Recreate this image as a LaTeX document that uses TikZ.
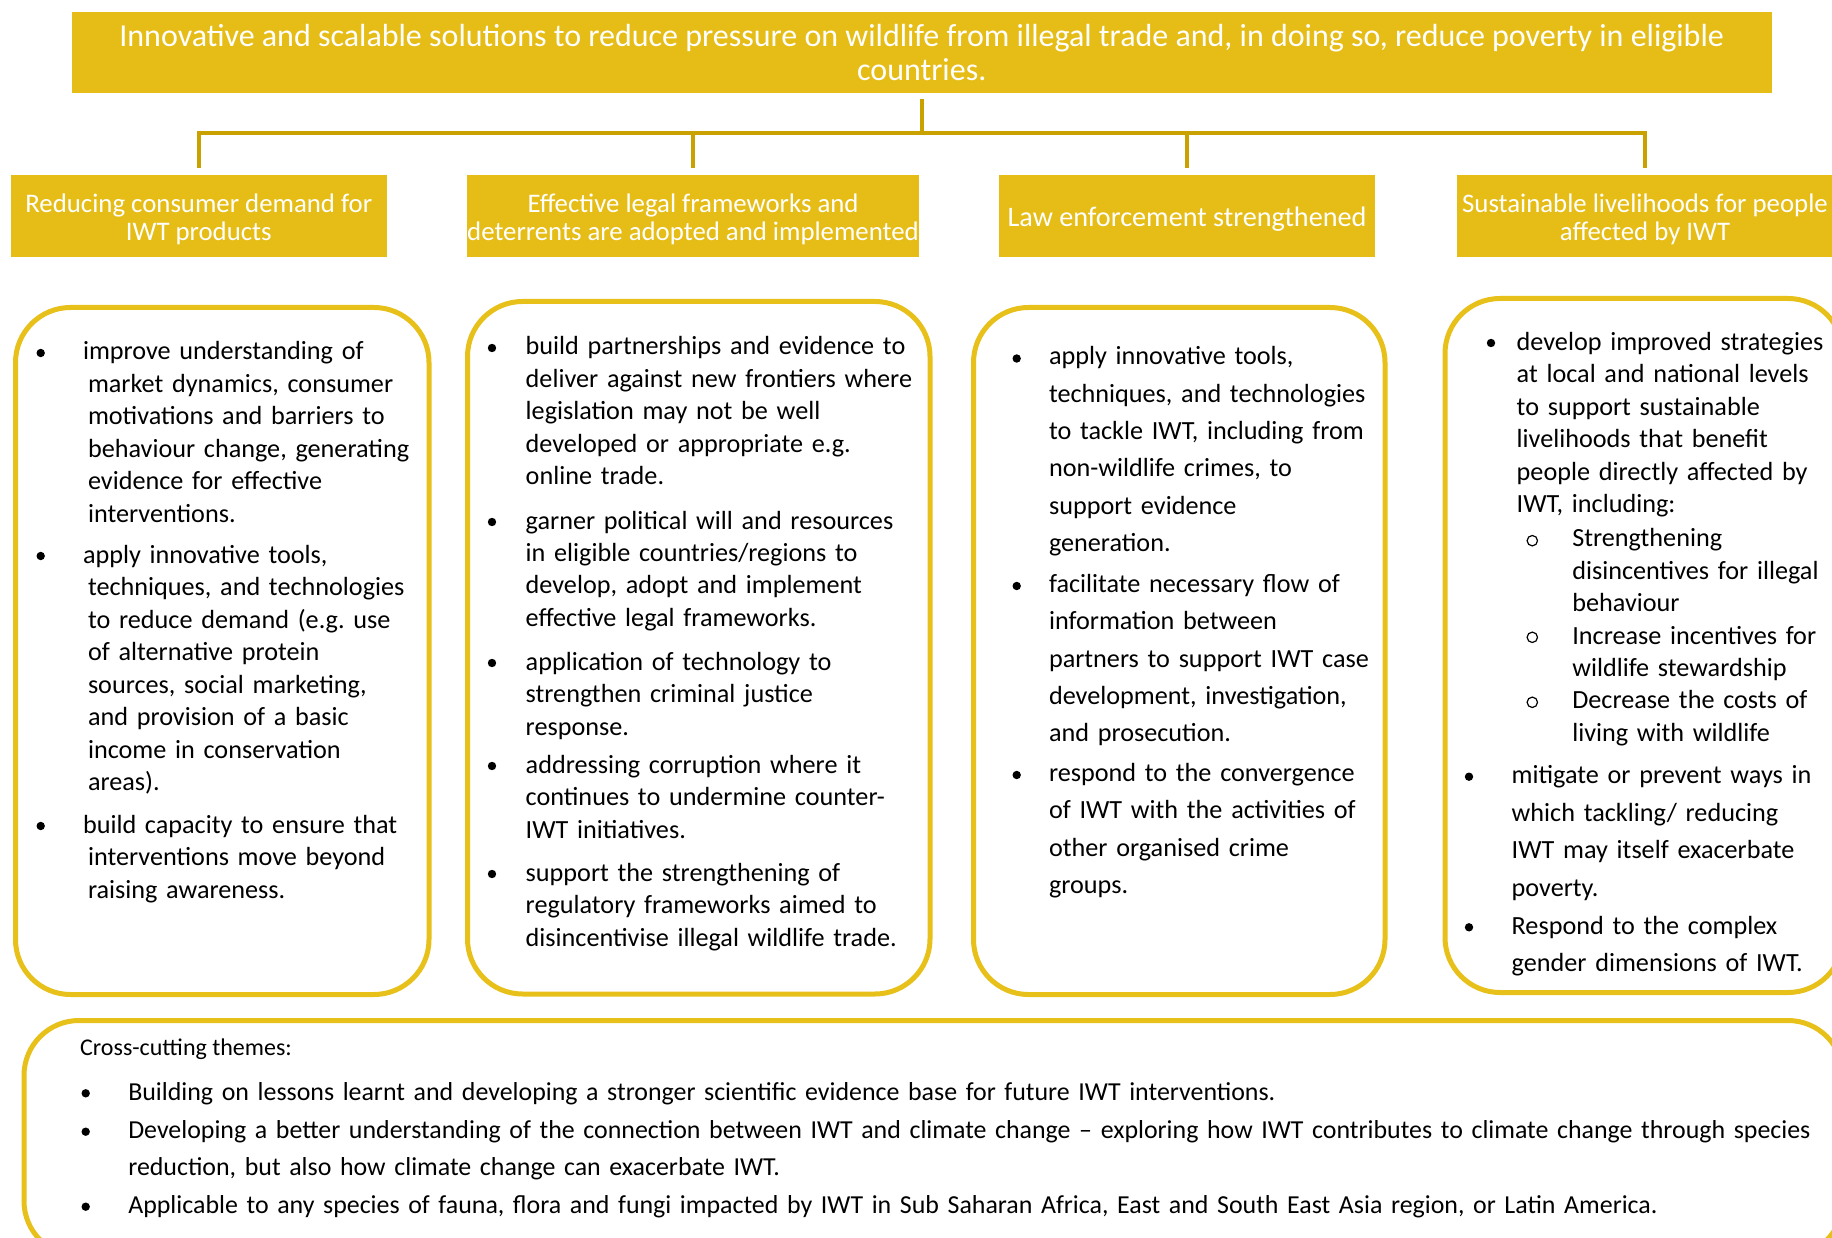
\documentclass[tikz,border=0pt]{standalone}
\usepackage{fontspec}
\setmainfont{Carlito}
\usetikzlibrary{calc}
\frenchspacing
\definecolor{gold}{RGB}{230,189,23}
\definecolor{linegold}{RGB}{201,162,0}
\definecolor{edgegold}{RGB}{232,192,26}
\newcommand{\bodyfont}{\fontsize{26.2pt}{32.5pt}\selectfont}
\newcommand{\widefont}{\fontsize{26.2pt}{37.3pt}\selectfont}
\newcommand{\crossfont}{\fontsize{25.9pt}{37.5pt}\selectfont}
\newcommand{\dotb}[2]{\fill[black] (#1,#2) circle (4.2pt);}
\newcommand{\ringb}[2]{\draw[black,line width=1.2pt] (#1,#2) circle (5.2pt);}
\newcommand{\lowstrut}{\rule{0pt}{25pt}}
\begin{document}
\begin{tikzpicture}[x=1pt,y=-1pt,
  banner/.style={fill=gold, text=white, inner sep=0pt, align=center, font=\fontsize{32pt}{34.3pt}\selectfont},
  subbox/.style={fill=gold, text=white, inner sep=0pt, align=center, minimum height=82pt, font=\fontsize{26.8pt}{28.5pt}\selectfont},
  conn/.style={draw=linegold, line width=4pt},
  rbox/.style={draw=edgegold, line width=5pt, rounded corners=55pt},
  item/.style={anchor=base west, inner sep=0pt, outer sep=0pt, align=left, text width=450pt, font=\bodyfont},
  itemwide/.style={anchor=base west, inner sep=0pt, outer sep=0pt, align=left, text width=450pt, font=\widefont},
  itemcross/.style={anchor=base west, inner sep=0pt, outer sep=0pt, align=left, text width=1760pt, font=\crossfont},
]
\useasboundingbox (0,0) rectangle (1832,1238);
\clip (0,0) rectangle (1832,1238);
\fill[white] (0,0) rectangle (1832,1238);

% goal banner
\node[banner, minimum width=1700.5pt, minimum height=81.3pt] (top) at (921.75,52.35)
  {Innovative and scalable solutions to reduce pressure on wildlife from illegal trade and, in doing so, reduce poverty in eligible\\countries.};

% outcome boxes
\node[subbox, minimum width=376.4pt] (s1) at (198.8,216) {\lowstrut Reducing consumer demand for\\IWT products};
\node[subbox, minimum width=450pt] (s2) at (693,216) {\lowstrut Effective legal frameworks and\\deterrents are adopted and implemented};
\node[subbox, minimum width=376pt, font=\fontsize{28.2pt}{30pt}\selectfont] (s3) at (1187,216) {\rule{0pt}{26pt}Law enforcement strengthened};
\node[subbox, minimum width=376pt] (s4) at (1645,216) {\lowstrut Sustainable livelihoods for people\\affected by IWT};

% connectors
\coordinate (hub) at ([yshift=-40pt]top.south);
\draw[conn] ([yshift=-6pt]top.south) -- (hub);
\draw[conn] ([yshift=7pt]s1.north) |- (hub) -| ([yshift=7pt]s4.north);
\draw[conn] ([yshift=7pt]s2.north) -- (s2.north |- hub);
\draw[conn] ([yshift=7pt]s3.north) -- (s3.north |- hub);

% rounded output boxes
\draw[rbox] (15.5,307.5) rectangle (429,994.5);
\draw[rbox] (467.5,301.5) rectangle (930,994);
\draw[rbox] (973.5,307.5) rectangle (1385,994.5);
\draw[rbox] (1445,298.5) rectangle (1843,992.5);
\draw[rbox] (24,1020.5) rectangle (1843,1256);

% box A
\dotb{40.7}{353}
\node[item] (a1) at (88,360) {\hspace*{-5pt}improve understanding of\\market dynamics, consumer\\motivations and barriers to\\behaviour change, generating\\evidence for effective\\interventions.};
\dotb{40.7}{556}
\node[item] (a2) at (88,563) {\hspace*{-5pt}apply innovative tools,\\techniques, and technologies\\to reduce demand (e.g. use\\of alternative protein\\sources, social marketing,\\and provision of a basic\\income in conservation\\areas).};
\dotb{40.7}{826}
\node[item] (a3) at (88,833) {\hspace*{-5pt}build capacity to ensure that\\interventions move beyond\\raising awareness.};

% box B
\dotb{492}{348}
\node[item] (b1) at (525.7,355) {build partnerships and evidence to\\deliver against new frontiers where\\legislation may not be well\\developed or appropriate e.g.\\online trade.};
\dotb{492}{522}
\node[item] (b2) at (525.7,529) {garner political will and resources\\in eligible countries/regions to\\develop, adopt and implement\\effective legal frameworks.};
\dotb{492}{663}
\node[item] (b3) at (525.7,670) {application of technology to\\strengthen criminal justice\\response.};
\dotb{492}{766}
\node[item] (b4) at (525.7,773) {addressing corruption where it\\continues to undermine counter-\\IWT initiatives.};
\dotb{492}{874}
\node[item] (b5) at (525.7,881) {support the strengthening of\\regulatory frameworks aimed to\\disincentivise illegal wildlife trade.};

% box C
\dotb{1016.7}{358.5}
\node[itemwide] (c1) at (1049,365) {apply innovative tools,\\techniques, and technologies\\to tackle IWT, including from\\non-wildlife crimes, to\\support evidence\\generation.};
\dotb{1016.7}{586}
\node[itemwide] (c2) at (1049,592.5) {facilitate necessary flow of\\information between\\partners to support IWT case\\development, investigation,\\and prosecution.};
\dotb{1016.7}{775}
\node[itemwide] (c3) at (1049,781.5) {respond to the convergence\\of IWT with the activities of\\other organised crime\\groups.};

% box D
\dotb{1491}{343}
\node[item] (d1) at (1516.7,350.5) {develop improved strategies\\at local and national levels\\to support sustainable\\livelihoods that benefit\\people directly affected by\\IWT, including:};
\ringb{1532.3}{540.7}
\node[item] (d1a) at (1572.3,546.5) {Strengthening\\disincentives for illegal\\behaviour};
\ringb{1532.3}{637.3}
\node[item] (d1b) at (1572.3,644) {Increase incentives for\\wildlife stewardship};
\ringb{1532.3}{702.3}
\node[item] (d1c) at (1572.3,708.5) {Decrease the costs of\\living with wildlife};
\dotb{1469}{776.7}
\node[itemwide, font=\fontsize{26.2pt}{37.7pt}\selectfont] (d2) at (1511.7,783.3) {mitigate or prevent ways in\\which tackling/ reducing\\IWT may itself exacerbate\\poverty.};
\dotb{1469}{927.3}
\node[itemwide, font=\fontsize{26.2pt}{37.7pt}\selectfont] (d3) at (1511.7,934) {Respond to the complex\\gender dimensions of IWT.};

% cross-cutting themes
\node[anchor=base west, inner sep=0pt, font=\fontsize{24pt}{29pt}\selectfont] (xt) at (80,1055) {Cross-cutting themes:};
\dotb{85.7}{1093.3}
\node[itemcross] (x1) at (128.3,1100.7) {Building on lessons learnt and developing a stronger scientific evidence base for future IWT interventions.};
\dotb{85.7}{1131.7}
\node[itemcross] (x2) at (128.3,1138.3) {Developing a better understanding of the connection between IWT and climate change – exploring how IWT contributes to climate change through species\\reduction, but also how climate change can exacerbate IWT.};
\dotb{85.7}{1206.7}
\node[itemcross] (x3) at (128.3,1213.3) {Applicable to any species of fauna, flora and fungi impacted by IWT in Sub Saharan Africa, East and South East Asia region, or Latin America.};
\end{tikzpicture}
\end{document}
